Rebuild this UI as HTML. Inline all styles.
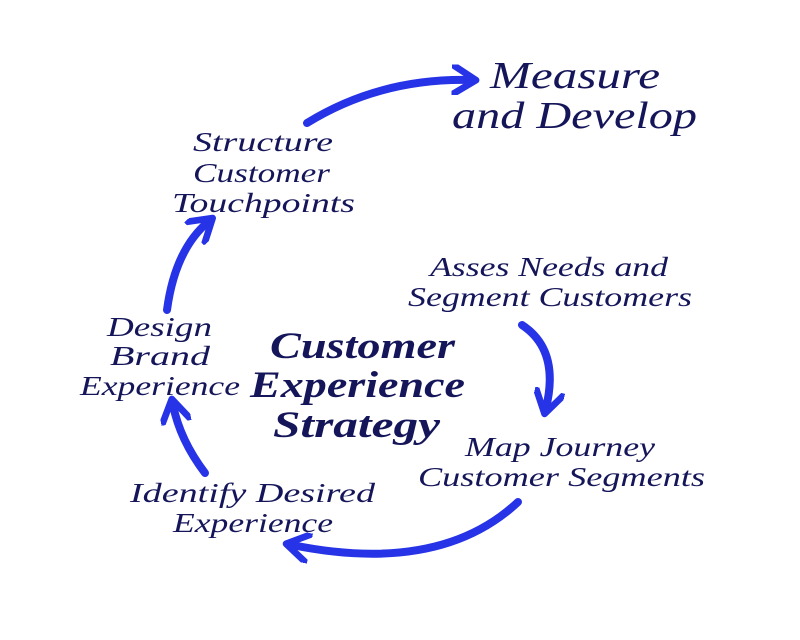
<!DOCTYPE html>
<html><head><meta charset="utf-8"><style>
html,body{margin:0;padding:0;background:#fff;}
svg{display:block}
text{font-family:"Liberation Serif",serif;font-style:italic;fill:#15155a;}
</style></head><body>
<svg width="800" height="640" viewBox="0 0 800 640" xmlns="http://www.w3.org/2000/svg">
<defs>
<marker id="ah" viewBox="0 0 10 10" refX="6" refY="5" markerWidth="3.8" markerHeight="3.8" orient="auto">
<path d="M0,0 L8,5 L0,10" fill="none" stroke="#2633e6" stroke-width="2.2" stroke-linecap="round" stroke-linejoin="round"/>
</marker>
</defs>
<g fill="none" stroke="#2633e6" stroke-width="8" stroke-linecap="round" marker-end="url(#ah)">
<path d="M307,123 Q380,78 470,80"/>
<path d="M167,310 Q175,250 208,222"/>
<path d="M205,473 Q180,440 173,405"/>
<path d="M518,502 Q440,575 292,545"/>
<path d="M522,325 Q560,350 546,408"/>
</g>
<g font-size="38" lengthAdjust="spacingAndGlyphs">
<text x="490" y="88" textLength="170" lengthAdjust="spacingAndGlyphs">Measure</text>
<text x="452" y="128" textLength="245" lengthAdjust="spacingAndGlyphs">and Develop</text>
</g>
<g font-size="27">
<text x="193" y="151" textLength="140" lengthAdjust="spacingAndGlyphs">Structure</text>
<text x="193" y="182" textLength="137" lengthAdjust="spacingAndGlyphs">Customer</text>
<text x="172" y="212" textLength="183" lengthAdjust="spacingAndGlyphs">Touchpoints</text>
<text x="430" y="276" textLength="238" lengthAdjust="spacingAndGlyphs">Asses Needs and</text>
<text x="408" y="306" textLength="284" lengthAdjust="spacingAndGlyphs">Segment Customers</text>
<text x="107" y="336" textLength="105" lengthAdjust="spacingAndGlyphs">Design</text>
<text x="110" y="365" textLength="100" lengthAdjust="spacingAndGlyphs">Brand</text>
<text x="80" y="395" textLength="160" lengthAdjust="spacingAndGlyphs">Experience</text>
<text x="465" y="456" textLength="190" lengthAdjust="spacingAndGlyphs">Map Journey</text>
<text x="418" y="486" textLength="287" lengthAdjust="spacingAndGlyphs">Customer Segments</text>
<text x="130" y="502" textLength="245" lengthAdjust="spacingAndGlyphs">Identify Desired</text>
<text x="173" y="532" textLength="160" lengthAdjust="spacingAndGlyphs">Experience</text>
</g>
<g font-size="37" font-weight="bold">
<text x="270" y="358" textLength="185" lengthAdjust="spacingAndGlyphs">Customer</text>
<text x="250" y="397" textLength="215" lengthAdjust="spacingAndGlyphs">Experience</text>
<text x="273" y="437" textLength="167" lengthAdjust="spacingAndGlyphs">Strategy</text>
</g>
</svg>
</body></html>
